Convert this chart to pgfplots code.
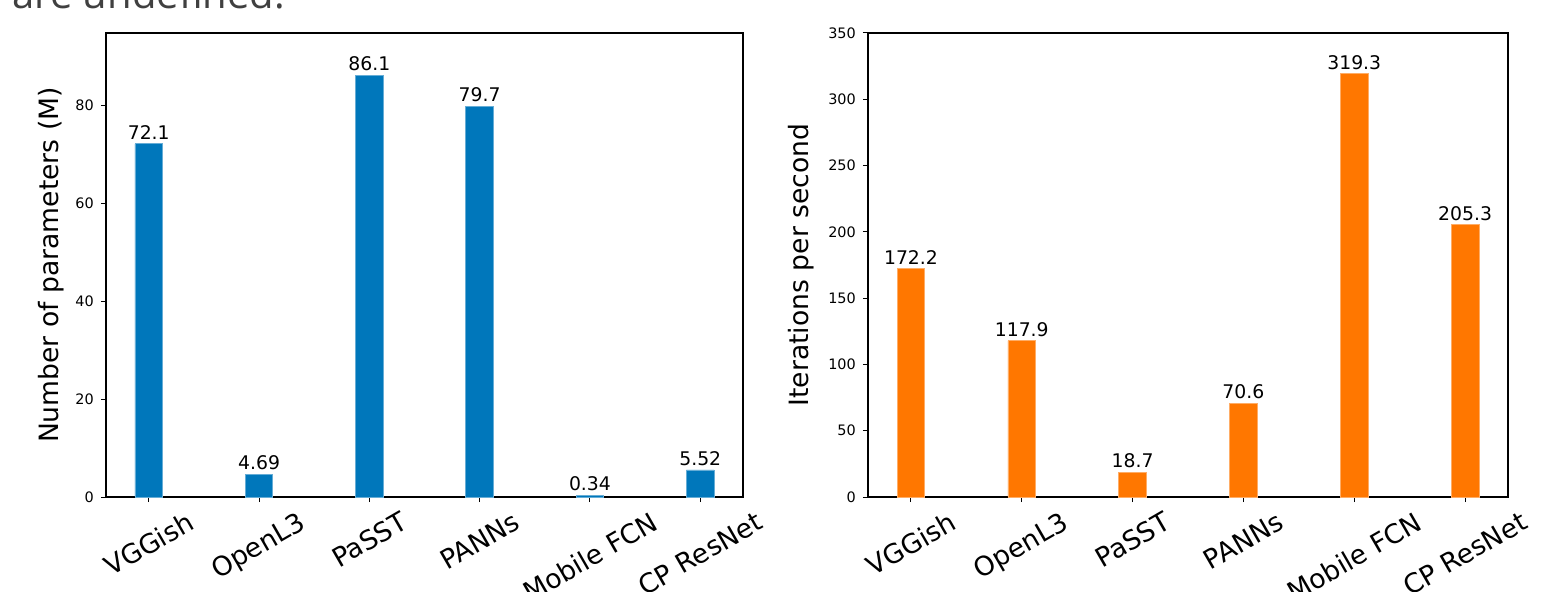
\documentclass[border=0pt]{standalone}
\usepackage{fontspec}
\setmainfont{DejaVu Sans}
\newfontfamily\topfont{Open Sans}
\usepackage{graphicx}
\usepackage{pgfplots}
\pgfplotsset{compat=1.18}
\usepackage{pgfplotstable}
\definecolor{barblue}{RGB}{0,119,187}
\definecolor{barorange}{RGB}{255,119,0}

\pgfplotstableread{
x y lab
0 72.1 72.1
1 4.69 4.69
2 86.1 86.1
3 79.7 79.7
4 0.34 0.34
5 5.52 5.52
}\params
\pgfplotstableread{
x y lab
0 172.2 172.2
1 117.9 117.9
2 18.7 18.7
3 70.6 70.6
4 319.3 319.3
5 205.3 205.3
}\iters

\pgfplotsset{
  mybar/.style={
    scale only axis,
    width=318.5pt, height=232pt,
    ybar, bar width=0.25,
    xmin=-0.3875, xmax=5.3875,
    ymin=0,
    xtick={0,1,2,3,4,5},
    xticklabels={\rotatebox{30}{VGGish},\rotatebox{30}{OpenL3},\rotatebox{30}{PaSST},\rotatebox{30}{PANNs},\rotatebox{30}{Mobile FCN},\rotatebox{30}{CP ResNet}},
    xticklabel style={font=\fontsize{13.3}{15}\selectfont, anchor=north, inner sep=0pt, yshift=-4pt},
    yticklabel style={font=\fontsize{7.2}{8}\selectfont},
    /pgf/number format/assume math mode=true,
    tick align=outside,
    major tick length=2.6pt,
    xtick pos=bottom, ytick pos=left,
    axis line style={line width=0.6pt},
    every tick/.style={black, line width=0.5pt},
    nodes near coords,
    point meta=explicit symbolic,
    every node near coord/.style={font=\fontsize{9.4}{10}\selectfont, anchor=south, inner sep=2pt, black},
  }
}

\begin{document}
\begin{tikzpicture}
\useasboundingbox (0,0) rectangle (780.5pt,-296pt);
\node[anchor=base west, inner sep=0pt, text=black!75, font=\topfont\fontsize{20}{24}\selectfont] at (6pt,-4.4pt) {are undefined.};

\begin{axis}[mybar,
  at={(53pt,-248.5pt)}, anchor=south west,
  ymax=94.71,
  ytick={0,20,40,60,80},
  ylabel={Number of parameters (M)},
  every axis y label/.style={at={(axis description cs:-0.0863,0.5)}, rotate=90, anchor=center, font=\fontsize{13.3}{15}\selectfont},
]
\addplot[fill=barblue, draw=barblue!60!white, line width=0.4pt] table[x=x, y=y, meta=lab] {\params};
\end{axis}

\begin{axis}[mybar,
  at={(434pt,-248.5pt)}, anchor=south west,
  width=320pt,
  ymax=350,
  ytick={0,50,100,150,200,250,300,350},
  ylabel={Iterations per second},
  every axis y label/.style={at={(axis description cs:-0.1047,0.5)}, rotate=90, anchor=center, font=\fontsize{13.3}{15}\selectfont},
]
\addplot[fill=barorange, draw=barorange!60!white, line width=0.4pt] table[x=x, y=y, meta=lab] {\iters};
\end{axis}
\end{tikzpicture}
\end{document}
